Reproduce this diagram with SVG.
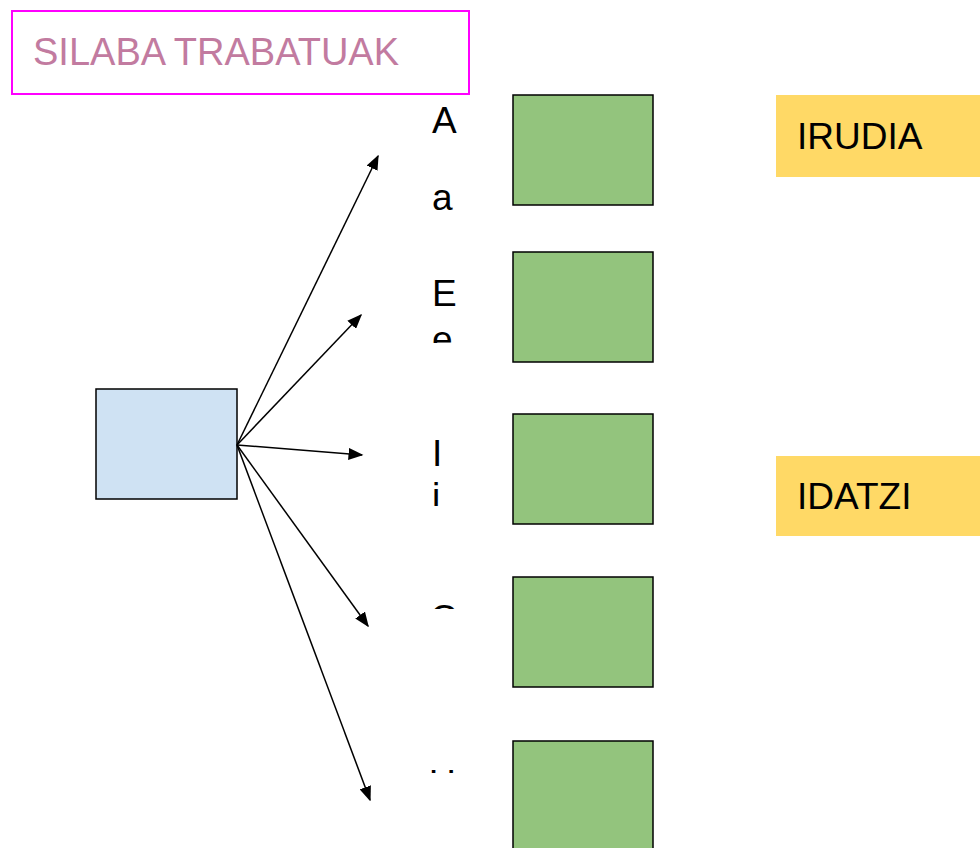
<svg xmlns="http://www.w3.org/2000/svg" width="980" height="848" viewBox="0 0 980 848">
<style>
.t{font-family:"Liberation Sans",Arial,sans-serif;font-size:37px;fill:#000}
.g{fill:#93c47d;stroke:#000;stroke-width:1.5}
.y{fill:#ffd966}
.c{stroke:#000;stroke-width:1.5;fill:none;marker-end:url(#ah)}
</style>
<defs>
<marker id="ah" viewBox="0 0 10 10" refX="9" refY="5" markerWidth="15" markerHeight="12" markerUnits="userSpaceOnUse" orient="auto" preserveAspectRatio="none">
<path d="M0,0 L10,5 L0,10 z" fill="#000"/>
</marker>
<clipPath id="c2"><rect x="400" y="260" width="100" height="83"/></clipPath>
<clipPath id="c3"><rect x="400" y="420" width="100" height="86"/></clipPath>
<clipPath id="c4"><rect x="400" y="580" width="100" height="29"/></clipPath>
<clipPath id="c5"><rect x="400" y="745" width="100" height="28"/></clipPath>
</defs>
<rect width="980" height="848" fill="#fff"/>
<g id="title">
<rect x="12" y="11" width="457" height="83" fill="#fff" stroke="#ff00ff" stroke-width="2"/>
<text x="33" y="65" style="font-family:'Liberation Sans',Arial,sans-serif;font-size:38px;fill:#c27ba0">SILABA TRABATUAK</text>
</g>
<g id="source"><rect x="96" y="389" width="141" height="110" fill="#cfe2f3" stroke="#000" stroke-width="1.5"/></g>
<g id="connectors">
<line class="c" x1="237" y1="445" x2="378" y2="156"/>
<line class="c" x1="237" y1="445" x2="361" y2="315"/>
<line class="c" x1="237" y1="445" x2="362" y2="455"/>
<line class="c" x1="237" y1="445" x2="368" y2="626"/>
<line class="c" x1="237" y1="445" x2="370" y2="800"/>
</g>
<g id="label-a"><text class="t" x="432" y="133">A</text><text class="t" x="432" y="210">a</text></g>
<g id="label-e" clip-path="url(#c2)"><text class="t" x="432" y="306">E</text><text class="t" x="432" y="352">e</text></g>
<g id="label-i" clip-path="url(#c3)"><text class="t" x="432" y="466">I</text><text class="t" x="432" y="509">i</text></g>
<g id="label-o" clip-path="url(#c4)"><text class="t" x="430" y="631">O</text></g>
<g id="label-u" clip-path="url(#c5)"><text class="t" x="429" y="796">U</text></g>
<g id="box-a"><rect class="g" x="513" y="95" width="140" height="110"/></g>
<g id="box-e"><rect class="g" x="513" y="252" width="140" height="110"/></g>
<g id="box-i"><rect class="g" x="513" y="414" width="140" height="110"/></g>
<g id="box-o"><rect class="g" x="513" y="577" width="140" height="110"/></g>
<g id="box-u"><rect class="g" x="513" y="741" width="140" height="110"/></g>
<g id="irudia"><rect class="y" x="776" y="95" width="210" height="82"/><text class="t" x="797" y="149">IRUDIA</text></g>
<g id="idatzi"><rect class="y" x="776" y="456" width="210" height="80"/><text class="t" x="797" y="509">IDATZI</text></g>
</svg>
